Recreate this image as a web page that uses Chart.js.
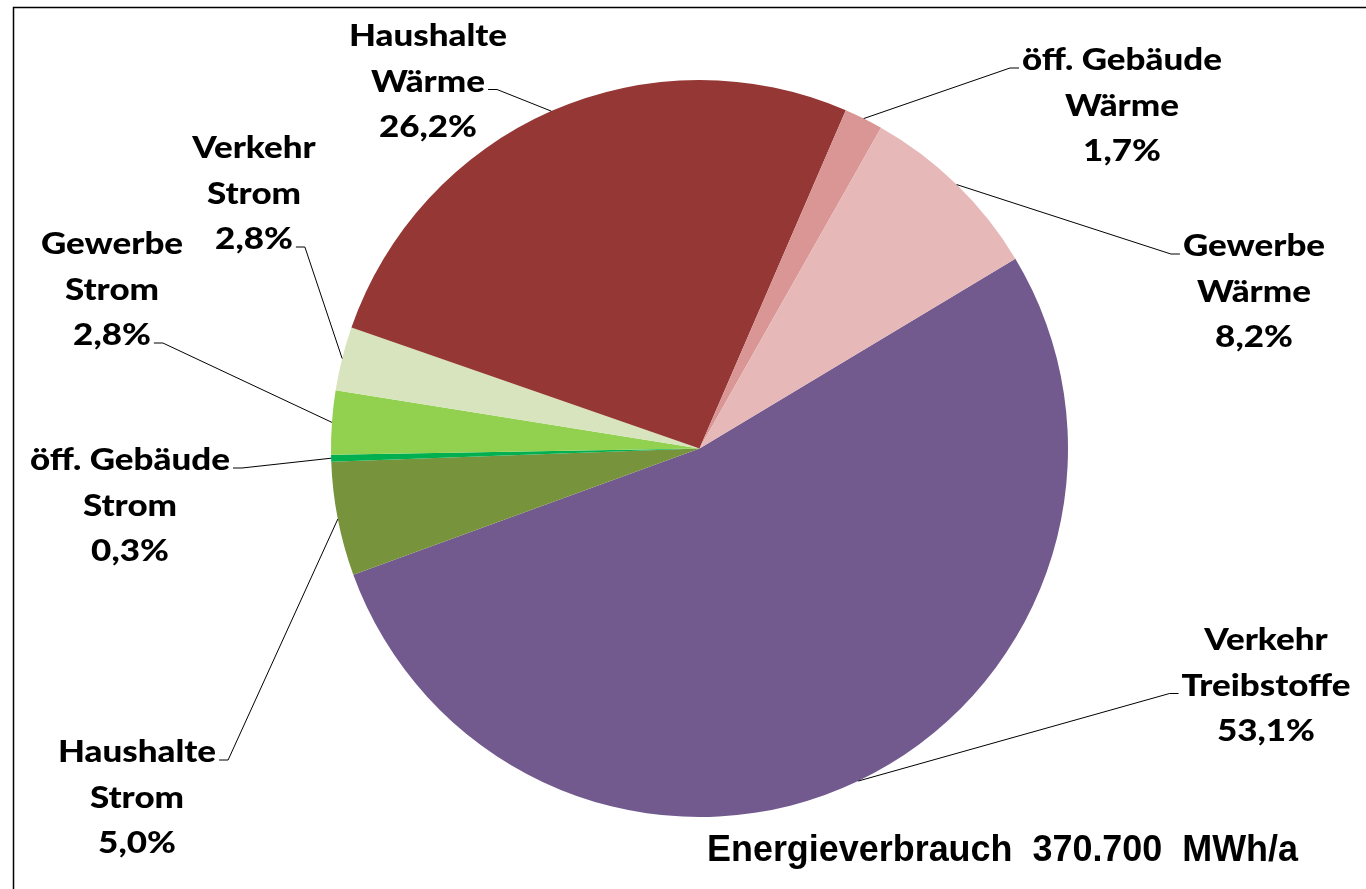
<!DOCTYPE html>
<html>
<head>
<meta charset="utf-8">
<script src="https://cdn.jsdelivr.net/npm/chart.js@4.4.0/dist/chart.umd.min.js"></script>
<style>
  html, body { margin: 0; padding: 0; background: #fff; }
  #wrap { position: relative; width: 1366px; height: 889px; }
</style>
</head>
<body>
<div id="wrap"><canvas id="c" width="1366" height="889"></canvas></div>
<script>
// ---- data ----
const categories = [
  ["Verkehr", "Treibstoffe"],
  ["Haushalte", "Strom"],
  ["öff. Gebäude", "Strom"],
  ["Gewerbe", "Strom"],
  ["Verkehr", "Strom"],
  ["Haushalte", "Wärme"],
  ["öff. Gebäude", "Wärme"],
  ["Gewerbe", "Wärme"]
];
const values = [53.1, 5.0, 0.3, 2.8, 2.8, 26.2, 1.7, 8.2];
const sliceColors = ["#725A8E", "#77933C", "#00B050", "#92D050", "#D7E4BD", "#953735", "#D99694", "#E6B9B8"];
const totalText = "Energieverbrauch  370.700  MWh/a";

// ---- label layout (text block placement, leader attach line & side) ----
const labelLayout = [
  { cx: 1266, y0: 640, line: 1, side: "left" },
  { cx: 137,  y0: 752, line: 0, side: "right" },
  { cx: 130,  y0: 460, line: 0, side: "right" },
  { cx: 112,  y0: 244, line: 2, side: "right" },
  { cx: 254,  y0: 148, line: 2, side: "right" },
  { cx: 428,  y0: 36,  line: 1, side: "right" },
  { cx: 1122, y0: 60,  line: 0, side: "left" },
  { cx: 1254, y0: 246, line: 0, side: "left" }
];
const lineHeight = 45.5;

function fmtPct(v) { return v.toFixed(1).replace(".", ",") + "%"; }

const labelPlugin = {
  id: "labels",
  beforeDraw(chart) {
    const ctx = chart.ctx;
    ctx.save();
    ctx.fillStyle = "#fff";
    ctx.fillRect(0, 0, chart.width, chart.height);
    ctx.strokeStyle = "#000";
    ctx.lineWidth = 1.5;
    ctx.beginPath();
    ctx.moveTo(13.5, chart.height + 2);
    ctx.lineTo(13.5, 7.5);
    ctx.lineTo(chart.width + 2, 7.5);
    ctx.stroke();
    ctx.restore();
  },
  afterDraw(chart) {
    const ctx = chart.ctx;
    const meta = chart.getDatasetMeta(0);
    ctx.save();
    ctx.font = "900 31px Lato";
    const sx = 200 / ctx.measureText("öff. Gebäude").width;
    meta.data.forEach((arc, i) => {
      const p = arc.getProps(["x", "y", "startAngle", "endAngle", "outerRadius"], true);
      const mid = (p.startAngle + p.endAngle) / 2;
      const ex = p.x + p.outerRadius * Math.cos(mid);
      const ey = p.y + p.outerRadius * Math.sin(mid);
      const L = labelLayout[i];
      const lines = [categories[i][0], categories[i][1], fmtPct(values[i])];
      // text
      ctx.fillStyle = "#000";
      ctx.textAlign = "center";
      ctx.textBaseline = "middle";
      lines.forEach((t, k) => {
        ctx.save();
        ctx.translate(L.cx, L.y0 + k * lineHeight);
        ctx.scale(sx, 1);
        ctx.fillText(t, 0, 0);
        ctx.restore();
      });
      // leader
      const w = ctx.measureText(lines[L.line]).width * sx;
      const ly = L.y0 + L.line * lineHeight + 8;
      let ax, bx;
      if (L.side === "right") { ax = L.cx + w / 2 + 3; bx = ax + 9; }
      else { ax = L.cx - w / 2 - 3; bx = ax - 9; }
      ctx.strokeStyle = "#000";
      ctx.lineWidth = 1;
      ctx.beginPath();
      ctx.moveTo(ax, ly);
      ctx.lineTo(bx, ly);
      ctx.lineTo(ex, ey);
      ctx.stroke();
    });
    // total text
    ctx.font = "bold 36px 'Liberation Sans'";
    ctx.textAlign = "left";
    ctx.textBaseline = "alphabetic";
    const tw = ctx.measureText(totalText).width;
    ctx.save();
    ctx.translate(707, 861);
    ctx.scale(591 / tw, 1);
    ctx.fillText(totalText, 0, 0);
    ctx.restore();
    ctx.restore();
  }
};

new Chart(document.getElementById("c"), {
  type: "pie",
  data: {
    labels: categories.map(c => c.join(" ")),
    datasets: [{
      data: values,
      backgroundColor: sliceColors,
      borderWidth: 0
    }]
  },
  options: {
    responsive: false,
    animation: false,
    rotation: 59,
    layout: { padding: { left: 331, right: 298, top: 80, bottom: 72 } },
    plugins: { legend: { display: false }, tooltip: { enabled: false } }
  },
  plugins: [labelPlugin]
});
</script>
</body>
</html>
